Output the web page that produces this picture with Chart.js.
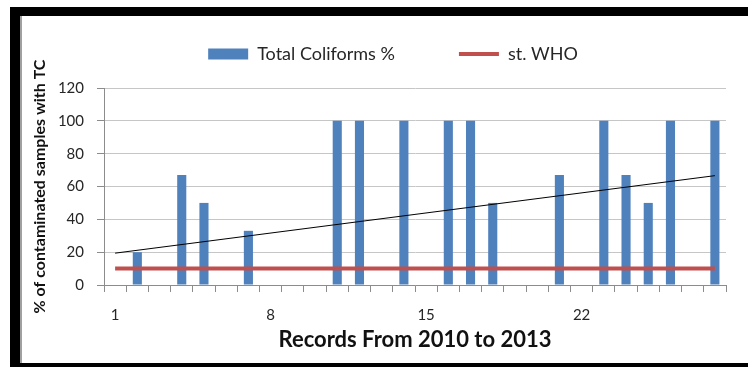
<!DOCTYPE html>
<html>
<head>
<meta charset="utf-8">
<script src="https://cdn.jsdelivr.net/npm/chart.js@4"></script>
<style>
html,body{margin:0;padding:0;background:#fff;}
#wrap{width:748px;height:367px;position:relative;}
</style>
</head>
<body>
<div id="wrap"><canvas id="c" width="748" height="367"></canvas></div>
<script>
// ---- data ----
const categories = ['1','2','3','4','5','6','7','8','9','10','11','12','13','14','15','16','17','18','19','20','21','22','23','24','25','26','27','28'];
const tickLabels = ['1','8','15','22'];
const totalColiforms = [0,20,0,67,50,0,33,0,0,0,100,100,0,100,0,100,100,50,0,0,67,0,100,67,50,100,0,100];
const whoStandard = [10,10,10,10,10,10,10,10,10,10,10,10,10,10,10,10,10,10,10,10,10,10,10,10,10,10,10,10];
const trendLine = [19.4,null,null,null,null,null,null,null,null,null,null,null,null,null,null,null,null,null,null,null,null,null,null,null,null,null,null,66.6];
const yTicks = [0,20,40,60,80,100,120];

const BLUE = '#4F81BD', RED = '#C0504D', GRID = '#C6C6C6', AXIS = '#8C8C8C', TXT = '#262626';
const FONT = 'Lato, "Open Sans", "DejaVu Sans", sans-serif';

const framePlugin = {
  id: 'frame',
  beforeInit(chart) {
    const lg = chart.legend;
    const fit = lg.fit;
    lg.fit = function() { fit.call(lg); this.height = 88; };
  },
  afterLayout(chart) {
    const lg = chart.legend;
    const P = chart.options.plugins.legend.labels.padding;
    const dx = 19;
    lg.left += dx; lg.right += dx;
    const top = 54 - P - 9;
    lg.bottom = top + lg.height; lg.top = top;
  },
  beforeDraw(chart) {
    const ctx = chart.ctx;
    ctx.save();
    ctx.fillStyle = '#fff';
    ctx.fillRect(0, 0, chart.width, chart.height);
    ctx.fillStyle = '#000';
    ctx.fillRect(10, 7, 738, 9);
    ctx.fillRect(10, 7, 10, 357);
    ctx.fillRect(10, 363, 738, 4);
    ctx.fillStyle = '#A0A0A0';
    ctx.fillRect(20, 16, 2, 347);
    ctx.restore();
  }
};

new Chart(document.getElementById('c'), {
  data: {
    labels: categories,
    datasets: [
      { type: 'bar', label: 'Total Coliforms %', data: totalColiforms, backgroundColor: BLUE,
        borderWidth: 0, barPercentage: 0.41, categoryPercentage: 1, order: 3 },
      { type: 'line', label: 'st. WHO', data: whoStandard, borderColor: RED, backgroundColor: RED,
        borderWidth: 4, pointRadius: 0, order: 1 },
      { type: 'line', label: 'trend', data: trendLine, borderColor: '#000', borderWidth: 1,
        pointRadius: 0, spanGaps: true, order: 2 }
    ]
  },
  options: {
    responsive: false,
    animation: false,
    layout: { padding: { left: 22, right: 22, top: 0, bottom: 4 } },
    plugins: {
      tooltip: { enabled: false },
      legend: {
        position: 'top',
        labels: {
          padding: 64,
          font: { family: FONT, size: 18 },
          color: TXT,
          usePointStyle: true,
          pointStyleWidth: 40,
          boxHeight: 11,
          generateLabels(chart) {
            const items = Chart.defaults.plugins.legend.labels.generateLabels(chart);
            return items.filter(i => i.datasetIndex < 2)
              .sort((a, b) => a.datasetIndex - b.datasetIndex)
              .map(i => {
                if (i.datasetIndex === 0) { i.pointStyle = 'rect'; i.lineWidth = 0; i.fillStyle = BLUE; i.strokeStyle = BLUE; }
                else { i.pointStyle = 'line'; i.lineWidth = 4; i.strokeStyle = RED; }
                return i;
              });
          }
        }
      }
    },
    scales: {
      x: {
        type: 'category',
        offset: true,
        grid: { offset: true, drawOnChartArea: false, drawTicks: true, tickLength: 7, color: AXIS },
        border: { color: AXIS, width: 1 },
        ticks: {
          autoSkip: false, maxRotation: 0, padding: 14,
          font: { family: FONT, size: 15 }, color: TXT,
          callback(v) { const l = categories[v]; return tickLabels.includes(l) ? l : ''; }
        },
        title: { display: true, text: 'Records From 2010 to 2013', color: '#111',
          font: { family: FONT, size: 22, weight: 'bold' }, padding: { top: 0, bottom: 10 } },
        afterFit(s) { s.height = 78; }
      },
      y: {
        min: 0, max: 120,
        afterBuildTicks(s) { s.ticks = yTicks.map(v => ({ value: v })); },
        grid: { color: GRID, tickLength: 7, tickColor: AXIS },
        border: { color: AXIS, width: 1 },
        ticks: { padding: 13, font: { family: FONT, size: 15 }, color: TXT },
        title: { display: true, text: '% of contaminated samples with TC', color: '#111',
          font: { family: FONT, size: 16, weight: 'bold' }, padding: { top: 8, bottom: 0 } },
        afterFit(s) { s.width = 82; }
      }
    }
  },
  plugins: [framePlugin]
});
</script>
</body>
</html>
